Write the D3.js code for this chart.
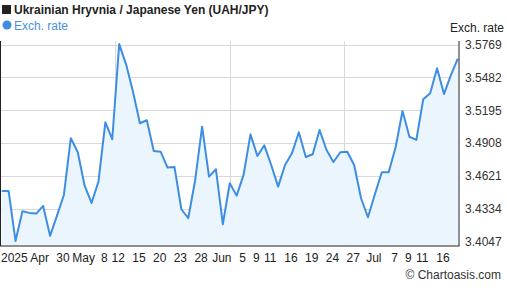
<!DOCTYPE html>
<html><head><meta charset="utf-8">
<script src="https://cdn.jsdelivr.net/npm/d3@7"></script>
<style>
body{margin:0;background:#fff;}
svg{display:block;font-family:"Liberation Sans",Arial,sans-serif;}
</style></head>
<body>
<svg id="c" width="507" height="288"></svg>
<script>
// Trading days 2025-04-17 .. 2025-07-18
const startDate = "2025-04-17", endDate = "2025-07-18";
const values = [
 3.4489,3.4489,3.4052,3.4312,3.4297,3.4291,3.4358,3.4096,3.4273,3.4454,
 3.4950,3.4830,3.4535,3.4384,3.4570,3.5089,3.4941,3.5773,3.5596,3.5357,
 3.5081,3.5107,3.4839,3.4832,3.4693,3.4699,3.4329,3.4251,3.4585,3.5051,
 3.4614,3.4679,3.4198,3.4556,3.4448,3.4629,3.4984,3.4795,3.4888,3.4716,
 3.4527,3.4716,3.4818,3.5002,3.4786,3.4810,3.5022,3.4847,3.4742,3.4827,
 3.4832,3.4716,3.4425,3.4259,3.4460,3.4652,3.4652,3.4871,3.5188,3.4963,
 3.4935,3.5290,3.5343,3.5561,3.5336,3.5502,3.5645
];
const yTicks = [3.4047,3.4334,3.4621,3.4908,3.5195,3.5482,3.5769];
const xTickDates = ["2025-04-30","2025-05-05","2025-05-08","2025-05-12","2025-05-15","2025-05-20","2025-05-23","2025-05-28","2025-06-02","2025-06-05","2025-06-09","2025-06-11","2025-06-16","2025-06-19","2025-06-24","2025-06-27","2025-07-02","2025-07-07","2025-07-09","2025-07-11","2025-07-16"];
const xTickLabels = ["30","May","8","12","15","20","23","28","Jun","5","9","11","16","19","24","27","Jul","7","9","11","16"];
const firstLabel = "2025 Apr";

const fmt = d3.utcFormat("%Y-%m-%d");
const dates = d3.utcDays(new Date(startDate+"T00:00Z"), d3.utcDay.offset(new Date(endDate+"T00:00Z"),1))
  .filter(d => d.getUTCDay()!==0 && d.getUTCDay()!==6).map(fmt);
const data = dates.map((d,i)=>({d, v: values[i]}));

const svg = d3.select("#c");
const L=1, R=458.5, T=41, B=245.5;
const x = d3.scalePoint().domain(dates).range([1.7, 457.8]);
const y = d3.scaleLinear().domain([3.4012, 3.5800]).range([B, T]);

// gridlines
svg.append("g").selectAll("line").data(yTicks.slice(1)).join("line")
  .attr("x1",L).attr("x2",R).attr("y1",d=>Math.round(y(d))+0.5).attr("y2",d=>Math.round(y(d))+0.5)
  .attr("stroke","#d9d9d9");
svg.append("g").selectAll("line").data([1,2,3]).join("line")
  .attr("x1",k=>Math.round(L+(R-L)*k/4)+0.5).attr("x2",k=>Math.round(L+(R-L)*k/4)+0.5)
  .attr("y1",T).attr("y2",B).attr("stroke","#d9d9d9");

// area + line
svg.append("path").datum(data)
  .attr("d", d3.area().x(d=>x(d.d)).y0(B).y1(d=>y(d.v)))
  .attr("fill","#eaf5fe");
svg.append("path").datum(data)
  .attr("d", d3.line().x(d=>x(d.d)).y(d=>y(d.v)))
  .attr("fill","none").attr("stroke","#3d8ee3").attr("stroke-width",2).attr("stroke-linejoin","round");

// frame
svg.append("line").attr("x1",0.5).attr("x2",0.5).attr("y1",T).attr("y2",B+0.5).attr("stroke","#222");
svg.append("line").attr("x1",0).attr("x2",R+1).attr("y1",B+0.5).attr("y2",B+0.5).attr("stroke","#222");

// right axis
const ay = d3.axisRight(y).tickValues(yTicks).tickSize(0).tickPadding(6).tickFormat(d3.format(".4f"));
const gy = svg.append("g").attr("transform",`translate(${R+0.5},0)`).call(ay);
gy.select(".domain").attr("stroke","#222").attr("d",`M0,${T}V${B+0.5}`);
gy.selectAll("text").attr("font-size","12px").attr("fill","#333").attr("font-family","Liberation Sans, Arial, sans-serif");

svg.append("text").attr("x",504).attr("y",32).attr("text-anchor","end")
  .attr("font-size","12px").attr("fill","#222").text("Exch. rate");

// x labels
const gx = svg.append("g");
gx.append("text").attr("x",1).attr("y",262).attr("font-size","12px").attr("fill","#222").text(firstLabel);
gx.selectAll("text.t").data(xTickDates).join("text").attr("class","t")
  .attr("x",(d)=>x(d)-1).attr("y",262).attr("text-anchor","middle")
  .attr("font-size","12px").attr("fill","#222").text((d,i)=>xTickLabels[i]);

// title & legend
svg.append("rect").attr("x",2).attr("y",5).attr("width",9).attr("height",9).attr("fill","#222");
svg.append("text").attr("x",14).attr("y",14).attr("font-size","12px").attr("font-weight","bold").attr("fill","#222")
  .text("Ukrainian Hryvnia / Japanese Yen (UAH/JPY)");
svg.append("circle").attr("cx",7).attr("cy",25).attr("r",4.5).attr("fill","#3d8ee3");
svg.append("text").attr("x",14).attr("y",29.5).attr("font-size","12px").attr("fill","#4a90e2").text("Exch. rate");

svg.append("text").attr("x",501).attr("y",279).attr("text-anchor","end").attr("font-size","12px").attr("fill","#333")
  .text("© Chartoasis.com");
</script>
</body></html>
